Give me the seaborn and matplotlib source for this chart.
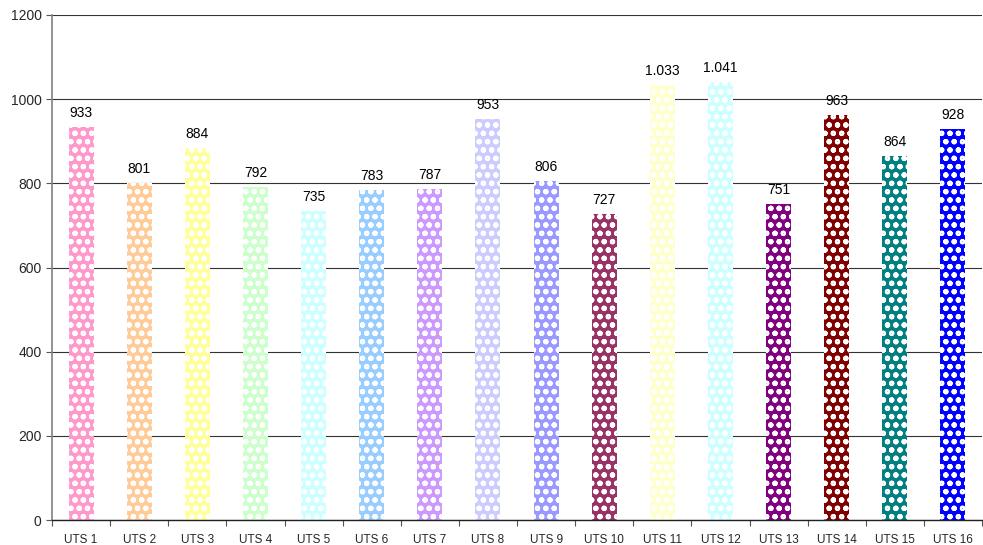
import matplotlib
matplotlib.use("Agg")
import matplotlib.pyplot as plt
import seaborn as sns
import pandas as pd
import numpy as np

categories = ["UTS 1", "UTS 2", "UTS 3", "UTS 4", "UTS 5", "UTS 6", "UTS 7", "UTS 8",
              "UTS 9", "UTS 10", "UTS 11", "UTS 12", "UTS 13", "UTS 14", "UTS 15", "UTS 16"]
values = [933, 801, 884, 792, 735, 783, 787, 953, 806, 727, 1033, 1041, 751, 963, 864, 928]
colors = ["#FF99CC", "#FFCC99", "#FFFF99", "#CCFFCC", "#CCFFFF", "#99CCFF", "#CC99FF", "#CCCCFF",
          "#9999FF", "#993366", "#FFFFCC", "#CCFFFF", "#800080", "#800000", "#008080", "#0000FF"]
yticks = [0, 200, 400, 600, 800, 1000, 1200]

sns.set_style("white")
plt.rcParams['font.family'] = ['Liberation Sans', 'DejaVu Sans']
plt.rcParams['hatch.linewidth'] = 1.5

df = pd.DataFrame({"cat": categories, "val": values})
fig = plt.figure(figsize=(9.83, 5.45), dpi=100)
ax = fig.add_axes([52/983, 25/545, (982-52)/983, (520-15)/545])

sns.barplot(data=df, x="cat", y="val", hue="cat", palette=colors, width=0.43,
            legend=False, ax=ax, saturation=1)

for p in ax.patches:
    p.set_hatch("oo")
    p.set_edgecolor("white")
    p.set_linewidth(0)

def fmt(v):
    return f"{v:,}".replace(",", ".")

for i, v in enumerate(values):
    ax.text(i, v + 17, fmt(v), ha="center", va="bottom", fontsize=10, color="black")

ax.set_ylim(0, 1200)
ax.set_xlim(-0.5, len(categories) - 0.5)
ax.set_yticks(yticks)
ax.set_yticklabels([str(t) for t in yticks], fontsize=10)
ax.yaxis.grid(True, color="#333333", linewidth=0.8)
ax.set_axisbelow(True)
ax.set_xlabel("")
ax.set_ylabel("")
ax.tick_params(axis="x", length=0, labelsize=8.5, pad=10)
ax.tick_params(axis="y", left=True, length=4, color="#555555", width=0.8)
ax.set_xticks(np.arange(-0.5, len(categories), 1), minor=True)
ax.tick_params(axis="x", which="minor", bottom=True, length=4, color="#555555", width=0.8)
for s in ["top", "right"]:
    ax.spines[s].set_visible(False)
ax.spines["left"].set_color("#808080")
ax.spines["left"].set_linewidth(1.2)
ax.spines["bottom"].set_color("#222222")
ax.spines["bottom"].set_linewidth(1)

fig.savefig("out.png", dpi=100)
